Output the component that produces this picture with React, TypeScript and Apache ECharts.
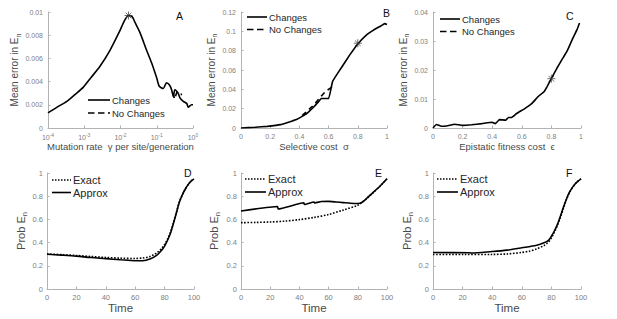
import React, { useEffect, useRef } from 'react';
import * as echarts from 'echarts';

// Panel A: mutation rate (log) vs mean error
const gammaA = [0.0001, 0.000178, 0.000331, 0.000562, 0.000933, 0.00158, 0.00269, 0.00513, 0.00933, 0.0126, 0.0166, 0.0209, 0.0251, 0.0347, 0.0525, 0.0724, 0.1, 0.117, 0.151, 0.186, 0.224, 0.257, 0.288, 0.316, 0.389, 0.437, 0.537, 0.676, 0.741, 0.912, 1];
const changesA = [0.0013, 0.0018, 0.0023, 0.0029, 0.0035, 0.0044, 0.0053, 0.0067, 0.0083, 0.0092, 0.0097, 0.0096, 0.0091, 0.0082, 0.0067, 0.0056, 0.0043, 0.0036, 0.0034, 0.0039, 0.0037, 0.0033, 0.0027, 0.0033, 0.003, 0.0026, 0.0023, 0.0021, 0.0018, 0.002, 0.002];
const gammaNoA = [0.28, 0.31, 0.36, 0.42, 0.5];
const noChangesA = [0.003, 0.0025, 0.0031, 0.0029, 0.0029];
const starA = [0.0166, 0.0097];

// Panel B: selective cost
const sigmaB = [0, 0.1, 0.18, 0.27, 0.38, 0.45, 0.5, 0.53, 0.55, 0.6, 0.627, 0.677, 0.745, 0.8, 0.86, 0.905, 0.96, 0.984, 1.0];
const changesB = [0, 0.0008, 0.0017, 0.0035, 0.0087, 0.015, 0.022, 0.027, 0.0305, 0.0305, 0.048, 0.06, 0.0756, 0.087, 0.0964, 0.101, 0.1058, 0.108, 0.107];
const sigmaNoB = [0.42, 0.5, 0.55, 0.58, 0.62, 0.63];
const noChangesB = [0.013, 0.024, 0.033, 0.038, 0.042, 0.046];
const starB = [0.8, 0.0877];

// Panel C: epistatic fitness cost
const epsC = [0, 0.023, 0.057, 0.1, 0.147, 0.2, 0.26, 0.33, 0.4, 0.42, 0.45, 0.49, 0.51, 0.53, 0.565, 0.62, 0.667, 0.71, 0.75, 0.77, 0.8, 0.837, 0.87, 0.905, 0.94, 0.973, 0.99];
const changesC = [0, 0.0012, 0.0006, 0.0008, 0.0013, 0.0009, 0.0011, 0.0015, 0.002, 0.0015, 0.0029, 0.0027, 0.0036, 0.0036, 0.005, 0.0067, 0.0084, 0.0108, 0.0125, 0.0142, 0.0171, 0.0206, 0.0235, 0.0264, 0.0304, 0.0339, 0.0362];
const starC = [0.8, 0.017];

// Panel D
const timeD = [0, 10, 20, 30, 40, 50, 60, 65, 70, 75, 78, 80, 82, 84, 86, 88, 90, 92, 94, 96, 98, 100];
const exactD = [0.302, 0.296, 0.289, 0.28, 0.272, 0.266, 0.263, 0.267, 0.28, 0.315, 0.35, 0.385, 0.43, 0.49, 0.57, 0.66, 0.75, 0.81, 0.86, 0.9, 0.93, 0.95];
const approxD = [0.3, 0.292, 0.283, 0.271, 0.262, 0.252, 0.244, 0.244, 0.258, 0.295, 0.335, 0.37, 0.42, 0.48, 0.565, 0.655, 0.745, 0.81, 0.86, 0.9, 0.93, 0.95];

// Panel E
const timeExactE = [0, 10, 20, 30, 40, 50, 60, 70, 80, 83, 86, 90, 95, 100];
const exactE = [0.572, 0.574, 0.578, 0.585, 0.598, 0.617, 0.642, 0.68, 0.722, 0.748, 0.778, 0.825, 0.883, 0.95];
const timeApproxE = [0, 25, 25.5, 43, 43.5, 50, 50.5, 55, 60, 65, 70, 75, 80, 83, 86, 90, 95, 100];
const approxE = [0.673, 0.711, 0.69, 0.743, 0.728, 0.75, 0.742, 0.754, 0.755, 0.75, 0.745, 0.739, 0.737, 0.748, 0.78, 0.827, 0.884, 0.95];

// Panel F
const timeExactF = [0, 20, 40, 50, 60, 65, 70, 75, 78, 80, 82, 84, 86, 88, 90, 92, 94, 96, 98, 100];
const exactF = [0.297, 0.297, 0.298, 0.302, 0.315, 0.326, 0.345, 0.375, 0.405, 0.44, 0.49, 0.545, 0.615, 0.69, 0.765, 0.825, 0.87, 0.905, 0.93, 0.95];
const timeApproxF = [0, 25, 25.5, 40, 50, 60, 70, 75, 78, 80, 82, 84, 86, 88, 90, 92, 94, 96, 98, 100];
const approxF = [0.315, 0.312, 0.31, 0.323, 0.335, 0.355, 0.377, 0.398, 0.42, 0.455, 0.5, 0.555, 0.625, 0.7, 0.77, 0.83, 0.872, 0.905, 0.93, 0.95];

const panelLetters = ['A', 'B', 'C', 'D', 'E', 'F'];
const legendTop = ['Changes', 'No Changes'];
const legendBottom = ['Exact', 'Approx'];

const zip = (xs: number[], ys: number[]) => xs.map((x, i) => [x, ys[i]]);

const FONT = '"Liberation Sans", Arial, sans-serif';
const AXIS_COLOR = '#b3b3b3';
const LABEL_COLOR = '#808080';
const TITLE_COLOR = '#4a4a4a';

const STAR = 'path://M5,0L5,10M0,5L10,5M1.5,1.5L8.5,8.5M1.5,8.5L8.5,1.5';

export default function App() {
  const ref = useRef<HTMLDivElement>(null);
  useEffect(() => {
    if (!ref.current) return;
    const chart = echarts.init(ref.current, undefined, { renderer: 'svg' });

    const grids = [
      { left: 48, top: 12, width: 145, height: 116 },
      { left: 241, top: 12, width: 146, height: 116 },
      { left: 433, top: 12, width: 148, height: 116 },
      { left: 47, top: 173, width: 147, height: 116 },
      { left: 241, top: 173, width: 146, height: 116 },
      { left: 433, top: 173, width: 148, height: 116 },
    ];

    const common = () => ({
      axisLine: { show: true, lineStyle: { color: AXIS_COLOR, width: 1 } },
      axisTick: { show: true, inside: true, length: 2.5, lineStyle: { color: AXIS_COLOR } },
      splitLine: { show: false },
      nameLocation: 'middle' as const,
    });

    const lbl = (top: boolean, margin: number) => ({
      fontSize: top ? 7 : 7.5,
      color: LABEL_COLOR,
      fontFamily: FONT,
      margin,
    });

    const yName = (text: string, top: boolean, gap: number) => ({
      name: `{b|${text}}{sub|n}`,
      nameGap: gap,
      nameTextStyle: {
        rich: {
          b: { fontSize: top ? 10 : 11, lineHeight: top ? 14 : 15, color: TITLE_COLOR, fontFamily: FONT },
          sub: { fontSize: top ? 7 : 7.5, verticalAlign: 'bottom', color: TITLE_COLOR, fontFamily: FONT },
        },
      },
    });

    const xName = (text: string, top: boolean, gap: number) => ({
      name: text,
      nameGap: gap,
      nameTextStyle: { fontSize: top ? 9.5 : 11.5, color: TITLE_COLOR, fontFamily: FONT },
    });

    const xAxes: any[] = [
      {
        gridIndex: 0, type: 'log', logBase: 10, min: 0.0001, max: 1,
        ...common(), ...xName('Mutation rate  \u03b3 per site/generation', true, 10),
        axisLabel: {
          ...lbl(true, 4),
          formatter: (v: number) => `{b|10}{sup|${Math.round(Math.log10(v))}}`,
          rich: {
            b: { fontSize: 7, lineHeight: 11, color: LABEL_COLOR, fontFamily: FONT },
            sup: { fontSize: 5, verticalAlign: 'top', color: LABEL_COLOR, fontFamily: FONT },
          },
        },
      },
      { gridIndex: 1, type: 'value', min: 0, max: 1, interval: 0.2, ...common(), ...xName('Selective cost  \u03c3', true, 13), axisLabel: lbl(true, 5) },
      { gridIndex: 2, type: 'value', min: 0, max: 1, interval: 0.2, ...common(), ...xName('Epistatic fitness cost  \u03f5', true, 13), axisLabel: lbl(true, 5) },
      { gridIndex: 3, type: 'value', min: 0, max: 100, interval: 20, ...common(), ...xName('Time', false, 7), axisLabel: lbl(false, 4) },
      { gridIndex: 4, type: 'value', min: 0, max: 100, interval: 20, ...common(), ...xName('Time', false, 7), axisLabel: lbl(false, 4) },
      { gridIndex: 5, type: 'value', min: 0, max: 100, interval: 20, ...common(), ...xName('Time', false, 7), axisLabel: lbl(false, 4) },
    ];

    const yAxes: any[] = [
      { gridIndex: 0, type: 'value', min: 0, max: 0.01, interval: 0.002, ...common(), ...yName('Mean error in E', true, 24), axisLabel: lbl(true, 5) },
      { gridIndex: 1, type: 'value', min: 0, max: 0.12, interval: 0.02, ...common(), ...yName('Mean error in E', true, 14), axisLabel: lbl(true, 5) },
      { gridIndex: 2, type: 'value', min: 0, max: 0.04, interval: 0.01, ...common(), ...yName('Mean error in E', true, 13), axisLabel: lbl(true, 5) },
      { gridIndex: 3, type: 'value', min: 0, max: 1, interval: 0.2, ...common(), ...yName('Prob E', false, 17), axisLabel: lbl(false, 4) },
      { gridIndex: 4, type: 'value', min: 0, max: 1, interval: 0.2, ...common(), ...yName('Prob E', false, 20), axisLabel: lbl(false, 4) },
      { gridIndex: 5, type: 'value', min: 0, max: 1, interval: 0.2, ...common(), ...yName('Prob E', false, 17), axisLabel: lbl(false, 4) },
    ];

    const line = (name: string, idx: number, data: number[][], type: any, smooth = 0.3) => ({
      name,
      type: 'line',
      xAxisIndex: idx,
      yAxisIndex: idx,
      data,
      symbol: 'none',
      showSymbol: false,
      smooth,
      lineStyle: { color: '#000', width: 1.6, type },
      itemStyle: { color: '#000' },
      z: 3,
    });

    const star = (idx: number, pt: number[]) => ({
      name: 'star',
      type: 'scatter',
      xAxisIndex: idx,
      yAxisIndex: idx,
      data: [pt],
      symbol: STAR,
      symbolSize: 8,
      itemStyle: { color: 'rgba(0,0,0,0)', borderColor: '#333', borderWidth: 0.9 },
      z: 5,
    });

    const SOLID = 'solid';
    const DASHED = [5, 4];
    const DOTTED = [1.6, 1.6];

    const series: any[] = [
      line('Changes', 0, zip(gammaA, changesA), SOLID, 0.25),
      line('No Changes', 0, zip(gammaNoA, noChangesA), DASHED, 0),
      star(0, starA),
      line('Changes', 1, zip(sigmaB, changesB), SOLID, 0.1),
      line('No Changes', 1, zip(sigmaNoB, noChangesB), DASHED, 0),
      star(1, starB),
      line('Changes', 2, zip(epsC, changesC), SOLID, 0.1),
      star(2, starC),
      line('Approx', 3, zip(timeD, approxD), SOLID),
      line('Exact', 3, zip(timeD, exactD), DOTTED),
      line('Approx', 4, zip(timeApproxE, approxE), SOLID, 0.15),
      line('Exact', 4, zip(timeExactE, exactE), DOTTED),
      line('Approx', 5, zip(timeApproxF, approxF), SOLID),
      line('Exact', 5, zip(timeExactF, exactF), DOTTED),
    ];

    // legend layout: [lineX1, lineX2, row1Y, rowGap, isTopRow]
    const legendLayout: [number, number, number, number, boolean][] = [
      [88, 110, 100, 13, true],
      [247, 267, 17, 12.5, true],
      [440, 460, 19, 12.5, true],
      [52, 71, 180, 12.5, false],
      [245, 266, 179, 13, false],
      [437, 458, 179, 13, false],
    ];

    const graphic: any[] = [];
    legendLayout.forEach(([x1, x2, y, gap, top]) => {
      const names = top ? legendTop : legendBottom;
      const dashes = top ? ['solid', [6.5, 3.5]] : [[1.5, 1.5], 'solid'];
      names.forEach((n, r) => {
        const yy = y + r * gap;
        const d = dashes[r];
        graphic.push({
          type: 'line',
          shape: { x1, y1: yy, x2, y2: yy },
          style: { stroke: '#000', lineWidth: 1.6, lineDash: d === 'solid' ? null : d },
          z: 10,
        });
        graphic.push({
          type: 'text',
          x: x2 + 2,
          y: yy,
          style: {
            text: n,
            fontSize: top ? 9.5 : 11,
            fontFamily: FONT,
            fill: '#262626',
            verticalAlign: 'middle',
            textVerticalAlign: 'middle',
          },
          z: 10,
        });
      });
    });

    const letterPos = [
      [176, 10], [383, 7], [566, 10], [184, 167], [375, 167], [566, 167],
    ];
    panelLetters.forEach((t, i) => {
      graphic.push({
        type: 'text',
        x: letterPos[i][0],
        y: letterPos[i][1],
        style: { text: t, fontSize: 10.5, fill: '#111', fontFamily: FONT },
        z: 10,
      });
    });

    chart.setOption({
      animation: false,
      backgroundColor: '#fff',
      grid: grids,
      xAxis: xAxes,
      yAxis: yAxes,
      series,
      graphic,
    });

    return () => chart.dispose();
  }, []);

  return (
    <div
      ref={ref}
      style={{ position: 'fixed', left: 0, top: 0, width: 617, height: 319, background: '#fff' }}
    />
  );
}
